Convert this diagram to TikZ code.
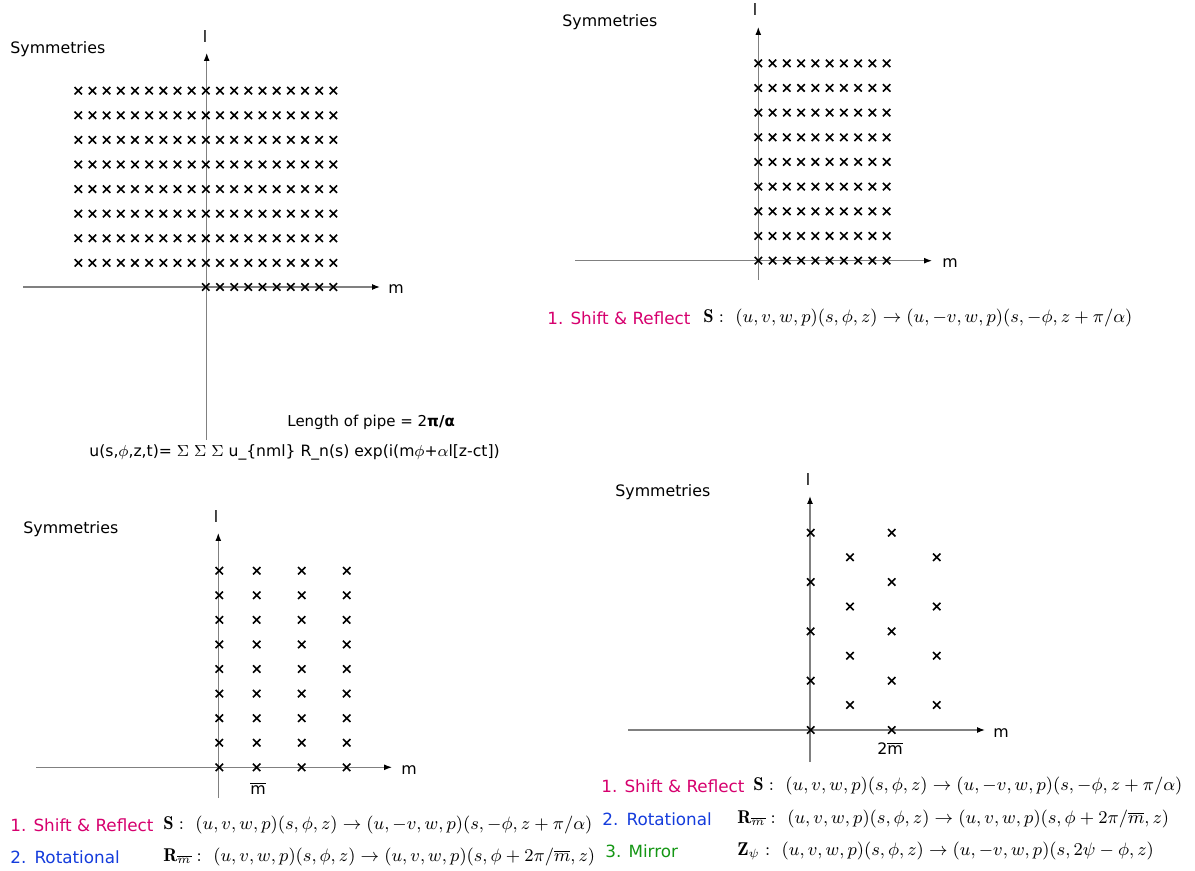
\documentclass[tikz,border=0pt]{standalone}
\usepackage{amsmath,amssymb}
\usepackage{fontspec}
\usepackage{xcolor}
\usetikzlibrary{arrows.meta, positioning, shapes.misc}
\newfontfamily\comic{DejaVu Sans}
\definecolor{symred}{RGB}{214,0,110}
\definecolor{symblue}{RGB}{20,60,220}
\definecolor{symgreen}{RGB}{20,150,20}

\begin{document}
\begin{tikzpicture}[
  x=0.5pt, y=-0.5pt,
  txt/.style={font=\comic\fontsize{7.9}{9}\selectfont, inner sep=0pt},
  itm/.style={font=\comic\fontsize{8.4}{10}\selectfont, inner sep=0pt, anchor=west},
  eqn/.style={font=\fontsize{9.25}{11}\selectfont, inner sep=0pt, anchor=west},
  axis/.style={draw=gray, line width=0.6pt, -{Latex[color=black, length=4pt, width=3pt]}},
  crs/.style={cross out, draw, minimum size=2.9pt, inner sep=0pt, line width=0.8pt}
]
\useasboundingbox (0,0) rectangle (1195,871);

% panel 1: full lattice
\node[txt, anchor=west] (sym1) at (10,49) {Symmetries};
\coordinate (h1a) at (23,287);   \coordinate (h1b) at (380,287);
\coordinate (v1a) at (206.7,440); \coordinate (v1b) at (206.7,53);
\draw[axis] (h1a) -- (h1b);
\draw[axis] (v1a) -- (v1b);
\node[txt] (l1) at (205,37) {l};
\node[txt] (m1) at (396,289) {m};
\foreach \r in {0,...,7}
  \foreach \c in {0,...,18}
    \node[crs] (p1-\r-\c) at ({78.3+14.17*\c},{90.7+24.6*\r}) {};
\foreach \c in {9,...,18}
  \node[crs] (p1-8-\c) at ({78.3+14.17*\c},287) {};
\node[txt, anchor=west, font=\comic\fontsize{7.5}{9}\selectfont] (pipe) at (287,422)
  {Length of pipe = 2\textbf{π/α}};
\node[itm, font=\comic\fontsize{7.8}{9}\selectfont] (usum) at (89,452)
  {u(s,$\phi$,z,t)= $\Sigma$ $\Sigma$ $\Sigma$ u\_\{nml\} R\_n(s) exp(i(m$\phi$+$\alpha$l[z-ct])};

% panel 2: shift & reflect
\node[txt, anchor=west] (sym2) at (562,22) {Symmetries};
\coordinate (h2a) at (575,260.7); \coordinate (h2b) at (932,260.7);
\coordinate (v2a) at (758.3,280);  \coordinate (v2b) at (758.3,27);
\draw[axis] (h2a) -- (h2b);
\draw[axis] (v2a) -- (v2b);
\node[txt] (l2) at (755,10) {l};
\node[txt] (m2) at (950,263) {m};
\foreach \r in {0,...,8}
  \foreach \c in {0,...,9}
    \node[crs] (p2-\r-\c) at ({758.3+14.26*\c},{63.3+24.67*\r}) {};
\node[itm, text=symred] (s2) at (547,318) {1. Shift \& Reflect};
\node[eqn] (e2) at (703,318)
  {$\mathbf{S}:\ (u,v,w,p)(s,\phi,z)\rightarrow(u,-v,w,p)(s,-\phi,z+\pi/\alpha)$};

% panel 3: rotational
\node[txt, anchor=west] (sym3) at (23,529) {Symmetries};
\coordinate (h3a) at (36,767.3);  \coordinate (h3b) at (392,767.3);
\coordinate (v3a) at (218.3,798); \coordinate (v3b) at (218.3,533);
\draw[axis] (h3a) -- (h3b);
\draw[axis] (v3a) -- (v3b);
\node[txt] (l3) at (216,517) {l};
\node[txt] (m3) at (409,770) {m};
\foreach \xx [count=\c] in {219.3,256.7,301.7,346.7}
  \foreach \r in {0,...,8}
    \node[crs] (p3-\r-\c) at (\xx,{570.7+24.58*\r}) {};
\node[txt] (mb3) at (258,788) {$\overline{\hbox{m}}$};
\node[itm, text=symred] (s3) at (10,825) {1. Shift \& Reflect};
\node[eqn] (e3) at (163,825)
  {$\mathbf{S}:\ (u,v,w,p)(s,\phi,z)\rightarrow(u,-v,w,p)(s,-\phi,z+\pi/\alpha)$};
\node[itm, text=symblue] (r3) at (10,857) {2.\,\ Rotational};
\node[eqn] (f3) at (163,857)
  {$\mathbf{R}_{\overline{m}}:\ (u,v,w,p)(s,\phi,z)\rightarrow(u,v,w,p)(s,\phi+2\pi/\overline{m},z)$};

% panel 4: mirror
\node[txt, anchor=west] (sym4) at (615,492) {Symmetries};
\coordinate (h4a) at (628,730);  \coordinate (h4b) at (985,730);
\coordinate (v4a) at (810,762);  \coordinate (v4b) at (810,496);
\draw[axis] (h4a) -- (h4b);
\draw[axis] (v4a) -- (v4b);
\node[txt] (l4) at (808,479) {l};
\node[txt] (m4) at (1001,733) {m};
\foreach \xx [count=\c] in {810.7,891.7}
  \foreach \r in {0,...,4}
    \node[crs] (p4a-\r-\c) at (\xx,{532.7+49.33*\r}) {};
\foreach \xx [count=\c] in {850,936.7}
  \foreach \r in {0,...,3}
    \node[crs] (p4b-\r-\c) at (\xx,{557.3+49.23*\r}) {};
\node[txt] (mb4) at (890,748) {2$\overline{\hbox{m}}$};
\node[itm, text=symred] (s4) at (601,786) {1. Shift \& Reflect};
\node[eqn] (e4) at (753,786)
  {$\mathbf{S}:\ (u,v,w,p)(s,\phi,z)\rightarrow(u,-v,w,p)(s,-\phi,z+\pi/\alpha)$};
\node[itm, text=symblue] (r4) at (602,819) {2.\,\ Rotational};
\node[eqn] (f4) at (737,819)
  {$\mathbf{R}_{\overline{m}}:\ (u,v,w,p)(s,\phi,z)\rightarrow(u,v,w,p)(s,\phi+2\pi/\overline{m},z)$};
\node[itm, text=symgreen] (z4) at (605,851) {3. Mirror};
\node[eqn] (g4) at (737,851)
  {$\mathbf{Z}_{\psi}:\ (u,v,w,p)(s,\phi,z)\rightarrow(u,-v,w,p)(s,2\psi-\phi,z)$};
\end{tikzpicture}
\end{document}
